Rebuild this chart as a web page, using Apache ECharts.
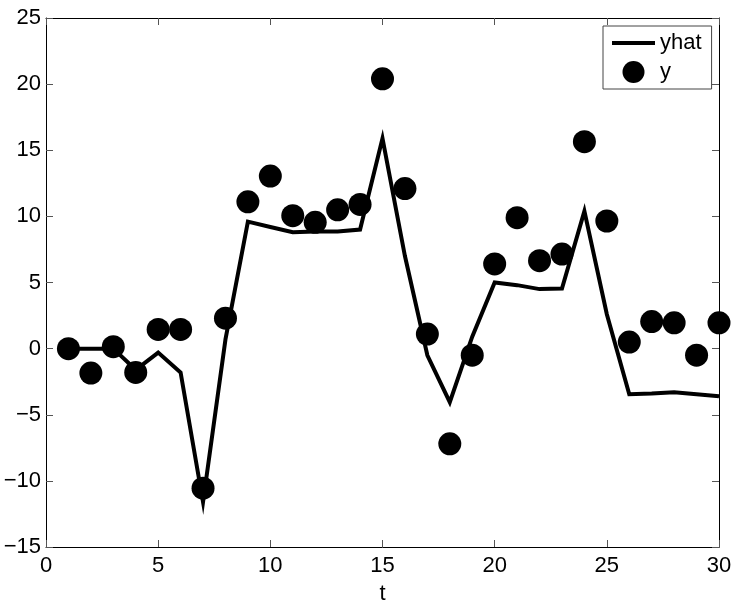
<!DOCTYPE html>
<html><head><meta charset="utf-8">
<script src="https://cdn.jsdelivr.net/npm/echarts@6/dist/echarts.min.js"></script>
<style>html,body{margin:0;padding:0;background:#fff}#c{width:747px;height:610px}</style>
</head><body><div id="c"></div>
<script>
const t = [1,2,3,4,5,6,7,8,9,10,11,12,13,14,15,16,17,18,19,20,21,22,23,24,25,26,27,28,29,30];
const yhat = [0,0,0,-1.6,-0.3,-1.8,-11.6,0.7,9.6,9.2,8.8,8.85,8.85,9.0,15.9,7.0,-0.5,-4.05,0.9,5.0,4.8,4.5,4.55,10.4,2.6,-3.45,-3.4,-3.3,-3.45,-3.6];
const y = [0,-1.85,0.15,-1.8,1.45,1.45,-10.55,2.3,11.1,13.05,10.05,9.55,10.5,10.9,20.4,12.1,1.1,-7.2,-0.5,6.4,9.9,6.65,7.15,15.65,9.65,0.5,2.05,1.95,-0.5,1.95];
const xTicks = {min:0,max:30,interval:5};
const yTicks = {min:-15,max:25,interval:5};

const font = 'Liberation Sans, Arial, sans-serif';
const minus = v => String(v).replace('-', '\u2212');
const lineXY = t.map((v,i)=>[v,yhat[i]]);
const ptXY = t.map((v,i)=>[v,y[i]]);
const tickStyle = {show:true,inside:true,length:7,lineStyle:{color:'#555',width:1}};
const axisLine = {show:true,onZero:false,lineStyle:{color:'#000',width:1}};
const chart = echarts.init(document.getElementById('c'));
chart.setOption({
  animation:false,
  backgroundColor:'#fff',
  textStyle:{fontFamily:font},
  grid:{left:46,right:28,top:18,bottom:61},
  legend:{
    left:603, top:26, orient:'vertical',
    borderColor:'#444', borderWidth:1, backgroundColor:'#fff',
    padding:[6,10,6,9], itemWidth:43, itemHeight:22, itemGap:7,
    symbolKeepAspect:true,
    textStyle:{fontSize:22,color:'#000',fontFamily:font},
    data:[{name:'yhat',icon:'path://M0,0L43,0L43,4L0,4Z'},{name:'y',icon:'circle'}]
  },
  xAxis:[
    {type:'value',min:xTicks.min,max:xTicks.max,interval:xTicks.interval,position:'bottom',
     name:'t',nameLocation:'middle',nameGap:36,nameTextStyle:{fontSize:22,color:'#000',fontFamily:font},
     axisLine,axisTick:tickStyle,splitLine:{show:false},
     axisLabel:{fontSize:22,color:'#000',margin:8,formatter:minus}},
    {type:'value',min:xTicks.min,max:xTicks.max,interval:xTicks.interval,position:'top',
     axisLine,axisTick:tickStyle,splitLine:{show:false},axisLabel:{show:false}}
  ],
  yAxis:[
    {type:'value',min:yTicks.min,max:yTicks.max,interval:yTicks.interval,position:'left',
     axisLine,axisTick:tickStyle,splitLine:{show:false},
     axisLabel:{fontSize:22,color:'#000',margin:5,formatter:minus}},
    {type:'value',min:yTicks.min,max:yTicks.max,interval:yTicks.interval,position:'right',
     axisLine,axisTick:tickStyle,splitLine:{show:false},axisLabel:{show:false}}
  ],
  series:[
    {name:'yhat',type:'line',data:lineXY,symbol:'none',showSymbol:false,
     lineStyle:{color:'#000',width:4,join:'miter'},itemStyle:{color:'#000'},z:3},
    {name:'y',type:'scatter',data:ptXY,symbol:'circle',symbolSize:23,
     itemStyle:{color:'#000',opacity:1},z:2}
  ]
});
</script></body></html>
